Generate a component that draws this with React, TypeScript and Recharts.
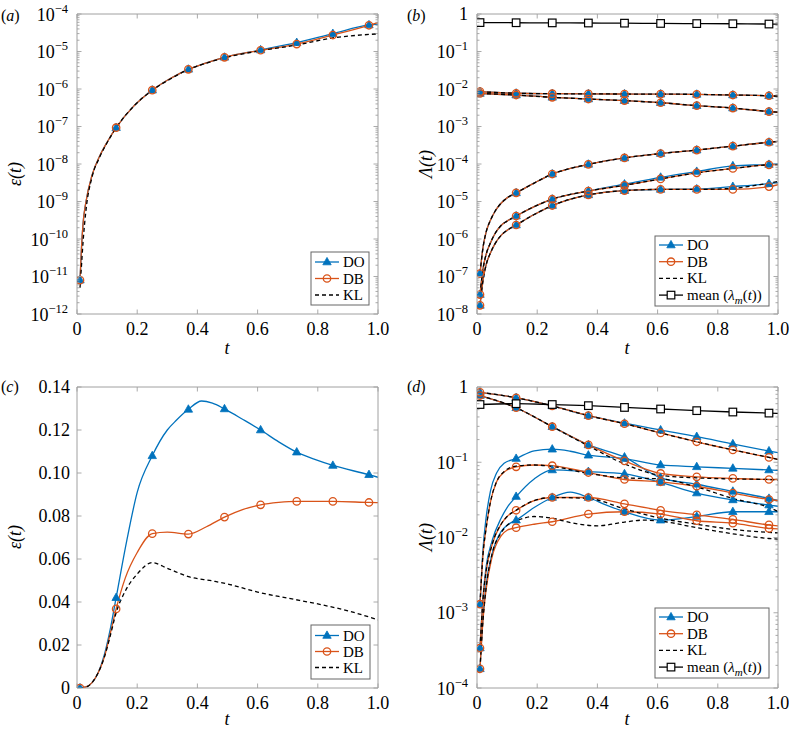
// Four-panel error / eigenvalue comparison: DO vs DB vs KL, log and linear panels.
import React from "react";
import { Line, LineChart, XAxis, YAxis } from "recharts";

type P = [number, number];
type Mark = "tri" | "circ" | "sq";

const BLUE = "#0072BD";
const ORANGE = "#D95319";
const FRAME = "#a0a0a0";
const FONT = "'Liberation Serif', 'Times New Roman', serif";

// marker times shared by every series
const MARK_T = [0.01, 0.13, 0.25, 0.37, 0.49, 0.61, 0.73, 0.85, 0.97];
const X_TICKS = [0, 0.2, 0.4, 0.6, 0.8, 1];

// y tick decades / linear ticks
const A_DECADES = [-12, -11, -10, -9, -8, -7, -6, -5, -4];
const B_DECADES = [-8, -7, -6, -5, -4, -3, -2, -1, 0];
const C_TICKS = [0, 0.02, 0.04, 0.06, 0.08, 0.1, 0.12, 0.14];
const D_DECADES = [-4, -3, -2, -1, 0];
const MINOR_MULT = [2, 3, 4, 5, 6, 7, 8, 9];

// (a) error, log scale
const A_DO: P[] = [
  [0.01, 8e-12], [0.015, 6e-11], [0.02, 2.5e-10], [0.03, 1e-9], [0.05, 5e-9], [0.075, 1.6e-8],
  [0.1, 3.8e-8], [0.13, 9.3e-8], [0.19, 3.6e-7], [0.25, 9.3e-7], [0.31, 1.9e-6], [0.37, 3.35e-6],
  [0.43, 5e-6], [0.49, 7e-6], [0.61, 1.1e-5], [0.73, 1.72e-5], [0.85, 2.99e-5], [0.97, 5.1e-5], [1, 5.4e-5],
];
const A_DB: P[] = [
  [0.01, 8e-12], [0.015, 6e-11], [0.02, 2.5e-10], [0.03, 1e-9], [0.05, 5e-9], [0.075, 1.6e-8],
  [0.1, 3.8e-8], [0.13, 9.3e-8], [0.19, 3.6e-7], [0.25, 9.3e-7], [0.31, 1.9e-6], [0.37, 3.35e-6],
  [0.43, 5e-6], [0.49, 7e-6], [0.61, 1.08e-5], [0.73, 1.58e-5], [0.85, 2.75e-5], [0.97, 5e-5], [1, 5.9e-5],
];
const A_KL: P[] = [
  [0.01, 5e-12], [0.015, 2e-11], [0.02, 8e-11], [0.03, 6e-10], [0.05, 4.5e-9], [0.075, 1.5e-8],
  [0.1, 3.7e-8], [0.13, 9.2e-8], [0.19, 3.6e-7], [0.25, 9.2e-7], [0.31, 1.85e-6], [0.37, 3.3e-6],
  [0.43, 4.9e-6], [0.49, 6.8e-6], [0.61, 1.05e-5], [0.73, 1.49e-5], [0.85, 2.3e-5], [0.97, 2.85e-5], [1, 2.95e-5],
];

// (b) eigenvalues, log scale
const B_MEAN: P[] = [
  [0.01, 0.59], [0.13, 0.585], [0.25, 0.58], [0.37, 0.575], [0.49, 0.57], [0.61, 0.56],
  [0.73, 0.555], [0.85, 0.55], [0.97, 0.54], [1, 0.54],
];
const B_M1: P[] = [
  [0.01, 8.5e-3], [0.13, 7.7e-3], [0.25, 7.5e-3], [0.37, 7.4e-3], [0.49, 7.35e-3], [0.61, 7.3e-3],
  [0.73, 7.2e-3], [0.85, 6.9e-3], [0.97, 6.6e-3], [1, 6.4e-3],
];
const B_M2: P[] = [
  [0.01, 7.6e-3], [0.13, 6.9e-3], [0.25, 6e-3], [0.37, 5.4e-3], [0.49, 4.9e-3], [0.61, 4.3e-3],
  [0.73, 3.6e-3], [0.85, 3.1e-3], [0.97, 2.5e-3], [1, 2.4e-3],
];
const B_M3: P[] = [
  [0.01, 1.2e-7], [0.02, 6e-7], [0.03, 1.5e-6], [0.045, 3.2e-6], [0.06, 5.5e-6], [0.08, 9e-6],
  [0.1, 1.25e-5], [0.13, 1.7e-5], [0.19, 3.1e-5], [0.25, 5.4e-5], [0.31, 7.6e-5], [0.37, 9.8e-5],
  [0.49, 1.45e-4], [0.61, 1.9e-4], [0.73, 2.35e-4], [0.85, 3e-4], [0.97, 3.8e-4], [1, 4e-4],
];
const B_M4_DO: P[] = [
  [0.01, 3.3e-8], [0.02, 1.6e-7], [0.03, 3.8e-7], [0.045, 8e-7], [0.06, 1.4e-6], [0.08, 2.3e-6],
  [0.1, 3e-6], [0.13, 4.1e-6], [0.19, 7.3e-6], [0.25, 1.15e-5], [0.37, 1.9e-5], [0.49, 2.9e-5],
  [0.61, 4.4e-5], [0.73, 6.3e-5], [0.85, 8.9e-5], [0.97, 9.7e-5], [1, 1e-4],
];
const B_M4_DB: P[] = [
  [0.01, 3.3e-8], [0.02, 1.6e-7], [0.03, 3.8e-7], [0.045, 8e-7], [0.06, 1.4e-6], [0.08, 2.3e-6],
  [0.1, 3e-6], [0.13, 4.1e-6], [0.19, 7.3e-6], [0.25, 1.15e-5], [0.37, 1.9e-5], [0.49, 2.7e-5],
  [0.61, 4e-5], [0.73, 5.8e-5], [0.85, 7.6e-5], [0.97, 9.5e-5], [1, 9.6e-5],
];
const B_M5_DO: P[] = [
  [0.01, 1.7e-8], [0.02, 8e-8], [0.03, 2e-7], [0.045, 4.3e-7], [0.06, 7.5e-7], [0.08, 1.25e-6],
  [0.1, 1.7e-6], [0.13, 2.36e-6], [0.19, 4.5e-6], [0.25, 7.8e-6], [0.37, 1.5e-5], [0.49, 1.95e-5],
  [0.61, 2.1e-5], [0.73, 2.15e-5], [0.85, 2.5e-5], [0.97, 3e-5], [1, 3.2e-5],
];
const B_M5_DB: P[] = [
  [0.01, 1.7e-8], [0.02, 8e-8], [0.03, 2e-7], [0.045, 4.3e-7], [0.06, 7.5e-7], [0.08, 1.25e-6],
  [0.1, 1.7e-6], [0.13, 2.36e-6], [0.19, 4.5e-6], [0.25, 7.8e-6], [0.37, 1.5e-5], [0.49, 1.95e-5],
  [0.61, 2.1e-5], [0.73, 2.1e-5], [0.85, 2.1e-5], [0.97, 2.5e-5], [1, 2.8e-5],
];
const B_M5_KL: P[] = [
  [0.01, 1.7e-8], [0.02, 8e-8], [0.03, 2e-7], [0.045, 4.3e-7], [0.06, 7.5e-7], [0.08, 1.25e-6],
  [0.1, 1.7e-6], [0.13, 2.36e-6], [0.19, 4.5e-6], [0.25, 7.8e-6], [0.37, 1.5e-5], [0.49, 1.95e-5],
  [0.61, 2.1e-5], [0.73, 2.1e-5], [0.85, 2.25e-5], [0.97, 3.1e-5], [1, 3.4e-5],
];

// (c) error, linear scale
const C_DO: P[] = [
  [0.01, 0], [0.03, 0.0005], [0.05, 0.0025], [0.07, 0.007], [0.09, 0.015], [0.11, 0.027],
  [0.13, 0.042], [0.166, 0.069], [0.2, 0.091], [0.25, 0.108], [0.3, 0.12], [0.33, 0.1245],
  [0.37, 0.1296], [0.414, 0.1335], [0.45, 0.1325], [0.49, 0.1298], [0.55, 0.125], [0.61, 0.12],
  [0.67, 0.1145], [0.73, 0.1097], [0.79, 0.1063], [0.85, 0.1035], [0.97, 0.0992], [1, 0.098],
];
const C_DB: P[] = [
  [0.01, 0], [0.03, 0.0005], [0.05, 0.0025], [0.07, 0.007], [0.09, 0.014], [0.11, 0.025],
  [0.13, 0.0368], [0.16, 0.051], [0.2, 0.063], [0.25, 0.0718], [0.3, 0.0725], [0.37, 0.0716],
  [0.43, 0.075], [0.49, 0.0795], [0.55, 0.083], [0.61, 0.0852], [0.67, 0.0863], [0.73, 0.0868],
  [0.85, 0.0868], [0.97, 0.0863], [1, 0.0862],
];
const C_KL: P[] = [
  [0.01, 0], [0.03, 0.0004], [0.05, 0.0025], [0.07, 0.007], [0.09, 0.014], [0.11, 0.024],
  [0.13, 0.035], [0.16, 0.045], [0.2, 0.053], [0.25, 0.0583], [0.3, 0.0557], [0.37, 0.0518],
  [0.45, 0.0498], [0.5, 0.0484], [0.6, 0.0446], [0.7, 0.0418], [0.8, 0.0391], [0.9, 0.0359], [1, 0.0317],
];

// (d) eigenvalues, log scale
const D_MEAN: P[] = [
  [0.01, 0.585], [0.13, 0.6], [0.25, 0.585], [0.37, 0.565], [0.49, 0.535], [0.61, 0.51],
  [0.73, 0.485], [0.85, 0.465], [0.97, 0.45], [1, 0.447],
];
const D_M1_DO: P[] = [
  [0.01, 0.85], [0.13, 0.72], [0.25, 0.56], [0.37, 0.416], [0.49, 0.33], [0.61, 0.268],
  [0.73, 0.219], [0.85, 0.175], [0.97, 0.141], [1, 0.134],
];
const D_M1_DB: P[] = [
  [0.01, 0.85], [0.13, 0.72], [0.25, 0.56], [0.37, 0.416], [0.49, 0.325], [0.61, 0.245],
  [0.73, 0.187], [0.85, 0.146], [0.97, 0.116], [1, 0.109],
];
const D_M2_DO: P[] = [
  [0.01, 0.77], [0.13, 0.53], [0.25, 0.297], [0.37, 0.17], [0.49, 0.117], [0.61, 0.062],
  [0.73, 0.051], [0.85, 0.041], [0.97, 0.033], [1, 0.031],
];
const D_M2_DB: P[] = [
  [0.01, 0.77], [0.13, 0.53], [0.25, 0.297], [0.37, 0.17], [0.49, 0.104], [0.61, 0.071],
  [0.73, 0.064], [0.85, 0.061], [0.97, 0.059], [1, 0.059],
];
const D_M2_KL: P[] = [
  [0.01, 0.77], [0.13, 0.53], [0.25, 0.297], [0.37, 0.165], [0.49, 0.095], [0.61, 0.067],
  [0.73, 0.062], [0.85, 0.06], [0.97, 0.059], [1, 0.058],
];
const D_M3_DO: P[] = [
  [0.01, 1.3e-3], [0.02, 7e-3], [0.03, 0.018], [0.045, 0.042], [0.065, 0.072], [0.09, 0.097],
  [0.13, 0.112], [0.19, 0.142], [0.25, 0.149], [0.31, 0.14], [0.37, 0.124], [0.49, 0.112],
  [0.61, 0.092], [0.73, 0.087], [0.85, 0.083], [0.97, 0.079], [1, 0.078],
];
const D_M3_DB: P[] = [
  [0.01, 1.3e-3], [0.02, 6e-3], [0.03, 0.013], [0.045, 0.03], [0.065, 0.055], [0.09, 0.074],
  [0.13, 0.087], [0.19, 0.092], [0.25, 0.09], [0.37, 0.073], [0.49, 0.059], [0.61, 0.055],
  [0.73, 0.048], [0.85, 0.039], [0.97, 0.032], [1, 0.031],
];
const D_M3_KL: P[] = [
  [0.01, 1.3e-3], [0.02, 6e-3], [0.03, 0.013], [0.045, 0.03], [0.065, 0.055], [0.09, 0.075],
  [0.13, 0.089], [0.19, 0.092], [0.25, 0.088], [0.37, 0.071], [0.49, 0.062], [0.61, 0.06],
  [0.73, 0.047], [0.85, 0.033], [0.97, 0.025], [1, 0.0222],
];
const D_M4_DO: P[] = [
  [0.01, 3.4e-4], [0.02, 1.6e-3], [0.03, 4e-3], [0.05, 0.009], [0.08, 0.018], [0.1, 0.025],
  [0.13, 0.035], [0.19, 0.06], [0.25, 0.079], [0.37, 0.075], [0.49, 0.07], [0.61, 0.054],
  [0.73, 0.039], [0.85, 0.0316], [0.97, 0.027], [1, 0.026],
];
const D_M4_DB: P[] = [
  [0.01, 3.4e-4], [0.02, 1.5e-3], [0.03, 3.5e-3], [0.05, 8e-3], [0.08, 0.015], [0.1, 0.019],
  [0.13, 0.023], [0.19, 0.031], [0.25, 0.034], [0.37, 0.034], [0.49, 0.028], [0.61, 0.023],
  [0.73, 0.02], [0.85, 0.0174], [0.97, 0.0147], [1, 0.0143],
];
const D_M4_KL: P[] = [
  [0.01, 3.4e-4], [0.02, 1.5e-3], [0.03, 3.5e-3], [0.05, 8e-3], [0.08, 0.015], [0.1, 0.019],
  [0.13, 0.023], [0.19, 0.031], [0.25, 0.034], [0.37, 0.033], [0.49, 0.024], [0.61, 0.018],
  [0.73, 0.015], [0.85, 0.0128], [0.97, 0.0117], [1, 0.0115],
];
const D_M5_DO: P[] = [
  [0.01, 1.8e-4], [0.02, 9e-4], [0.03, 2.3e-3], [0.05, 6e-3], [0.08, 0.012], [0.1, 0.0145],
  [0.13, 0.017], [0.19, 0.025], [0.25, 0.034], [0.31, 0.04], [0.37, 0.034], [0.43, 0.027],
  [0.49, 0.022], [0.61, 0.017], [0.73, 0.019], [0.85, 0.022], [0.97, 0.022], [1, 0.022],
];
const D_M5_DB: P[] = [
  [0.01, 1.8e-4], [0.02, 8e-4], [0.03, 2e-3], [0.05, 5.5e-3], [0.08, 0.0105], [0.1, 0.0125],
  [0.13, 0.0135], [0.19, 0.015], [0.25, 0.0162], [0.37, 0.0205], [0.49, 0.022], [0.61, 0.0205],
  [0.73, 0.0167], [0.85, 0.0155], [0.97, 0.0132], [1, 0.013],
];
const D_M5_KL: P[] = [
  [0.01, 1.8e-4], [0.02, 8e-4], [0.03, 2.1e-3], [0.05, 6e-3], [0.08, 0.0115], [0.1, 0.0145],
  [0.13, 0.0166], [0.19, 0.019], [0.25, 0.018], [0.31, 0.0158], [0.4, 0.0143], [0.49, 0.016],
  [0.55, 0.017], [0.61, 0.0165], [0.73, 0.0135], [0.85, 0.0112], [0.97, 0.0097], [1, 0.0095],
];

interface Series {
  pts: P[];
  color: string;
  dash?: boolean;
  mark?: Mark;
}

const rows = (pts: P[]) => pts.map(([t, v]) => ({ t, v }));
const isMarkT = (t: number) => MARK_T.some((m) => Math.abs(m - t) < 1e-9);
const decadeTicks = (decs: number[]) => decs.map((d) => Math.pow(10, d));
const minorTicks = (decs: number[]) =>
  decs.slice(0, -1).flatMap((d) => MINOR_MULT.map((m) => m * Math.pow(10, d)));

function markerShape(kind: Mark, color: string, cx: number, cy: number, key?: string) {
  if (kind === "tri")
    return (
      <polygon
        key={key}
        points={`${cx},${cy - 4.6} ${cx - 4.2},${cy + 2.8} ${cx + 4.2},${cy + 2.8}`}
        fill={color}
        stroke={color}
        strokeWidth={0.8}
      />
    );
  if (kind === "circ")
    return <circle key={key} cx={cx} cy={cy} r={3.7} fill="none" stroke={color} strokeWidth={1.3} />;
  return (
    <rect key={key} x={cx - 3.8} y={cy - 3.8} width={7.6} height={7.6} fill="#fff" stroke={color} strokeWidth={1.2} />
  );
}

function dotFor(kind: Mark, color: string) {
  return (p: any) => {
    const key = `d${p.index}`;
    if (p.cx == null || p.cy == null || !isMarkT(p.payload.t)) return <g key={key} />;
    return markerShape(kind, color, p.cx, p.cy, key);
  };
}

const fmtX = (v: number) => (v === 0 ? "0" : v.toFixed(1));

function logLabel(v: number, x: number, y: number) {
  const e = Math.round(Math.log10(v));
  if (e === 0)
    return (
      <text x={x - 9} y={y + 6} textAnchor="end" fontFamily={FONT} fontSize={18} fill="#000">
        1
      </text>
    );
  return (
    <text x={x - 9} y={y + 6.5} textAnchor="end" fontFamily={FONT} fontSize={18} fill="#000">
      10
      <tspan dy={-8} fontSize={12.5}>{`\u2212${-e}`}</tspan>
    </text>
  );
}

function linLabel(v: number, x: number, y: number) {
  return (
    <text x={x - 7} y={y + 6} textAnchor="end" fontFamily={FONT} fontSize={18} fill="#000">
      {v === 0 ? "0" : v.toFixed(2)}
    </text>
  );
}

interface PanelProps {
  left: number;
  top: number;
  width: number;
  height: number;
  margin: { top: number; right: number; bottom: number; left: number };
  log: boolean;
  domain: [number, number];
  majors: number[];
  minors: number[];
  series: Series[];
}

function Panel({ left, top, width, height, margin, log, domain, majors, minors, series }: PanelProps) {
  const yTicks = [...majors, ...minors];
  const isMajor = (v: number) => majors.some((m) => m === v || Math.abs(m - v) <= Math.abs(m) * 1e-9);
  const yTick = (side: "l" | "r") => (p: any) => {
    const v = p.payload.value;
    const major = isMajor(v);
    const len = major ? 4.5 : 2.5;
    const dx = side === "l" ? len : -len;
    return (
      <g key={`${side}${v}`}>
        <line x1={p.x} x2={p.x + dx} y1={p.y} y2={p.y} stroke={FRAME} strokeWidth={0.9} />
        {side === "l" && major && (log ? logLabel(v, p.x, p.y) : linLabel(v, p.x, p.y))}
      </g>
    );
  };
  const xTick = (side: "b" | "t") => (p: any) => {
    const v = p.payload.value;
    return (
      <g key={`${side}${v}`}>
        <line x1={p.x} x2={p.x} y1={p.y} y2={side === "b" ? p.y - 4.5 : p.y + 4.5} stroke={FRAME} strokeWidth={0.9} />
        {side === "b" && (
          <text x={p.x} y={p.y + 21} textAnchor="middle" fontFamily={FONT} fontSize={18} fill="#000">
            {fmtX(v)}
          </text>
        )}
      </g>
    );
  };
  // axes need a non-zero size or Recharts skips them; 1px each, taken out of the margins
  const axisCommon = {
    type: "number" as const,
    allowDataOverflow: true,
    interval: 0 as const,
    tickSize: 0,
    tickMargin: 0,
    tickLine: false,
    axisLine: { stroke: FRAME, strokeWidth: 1 },
  };
  return (
    <div style={{ position: "absolute", left, top }}>
      <LineChart width={width} height={height} margin={margin}>
        <XAxis {...axisCommon} xAxisId="b" dataKey="t" domain={[0, 1]} ticks={X_TICKS} height={1} tick={xTick("b")} />
        <XAxis {...axisCommon} xAxisId="t" orientation="top" dataKey="t" domain={[0, 1]} ticks={X_TICKS} height={1} tick={xTick("t")} />
        <YAxis {...axisCommon} yAxisId="l" scale={log ? "log" : "linear"} domain={domain} ticks={yTicks} width={1} tick={yTick("l")} />
        <YAxis {...axisCommon} yAxisId="r" orientation="right" scale={log ? "log" : "linear"} domain={domain} ticks={yTicks} width={1} tick={yTick("r")} />
        {series.map((s, i) => (
          <Line
            key={i}
            xAxisId="b"
            yAxisId="l"
            data={rows(s.pts)}
            dataKey="v"
            type="monotone"
            stroke={s.color}
            strokeWidth={1.3}
            strokeDasharray={s.dash ? "4 3" : undefined}
            dot={s.mark ? dotFor(s.mark, s.color) : false}
            activeDot={false}
            isAnimationActive={false}
          />
        ))}
      </LineChart>
    </div>
  );
}

interface LegendRow {
  label: React.ReactNode;
  color: string;
  dash?: boolean;
  mark?: Mark;
}

function LegendBox({ left, top, width, height, first, step, items }: {
  left: number; top: number; width: number; height: number; first: number; step: number; items: LegendRow[];
}) {
  return (
    <svg width={width + 2} height={height + 2} style={{ position: "absolute", left: left - 1, top: top - 1 }}>
      <rect x={1} y={1} width={width} height={height} fill="#fff" stroke="#666" strokeWidth={1} />
      {items.map((r, i) => {
        const cy = 1 + first + i * step;
        return (
          <g key={i}>
            <line x1={5} x2={29} y1={cy} y2={cy} stroke={r.color} strokeWidth={1.3} strokeDasharray={r.dash ? "4 3" : undefined} />
            {r.mark && markerShape(r.mark, r.color, 17, cy)}
            <text x={33} y={cy + 5} fontFamily={FONT} fontSize={15} fill="#000">
              {r.label}
            </text>
          </g>
        );
      })}
    </svg>
  );
}

const MEAN_LABEL = (
  <>
    mean (<tspan fontStyle="italic">λ</tspan>
    <tspan fontStyle="italic" fontSize={11} dy={4}>m</tspan>
    <tspan dy={-4}>(</tspan>
    <tspan fontStyle="italic">t</tspan>))
  </>
);

const LEG3: LegendRow[] = [
  { label: "DO", color: BLUE, mark: "tri" },
  { label: "DB", color: ORANGE, mark: "circ" },
  { label: "KL", color: "#000", dash: true },
];
const LEG4: LegendRow[] = [...LEG3, { label: MEAN_LABEL, color: "#000", mark: "sq" }];

const doS = (pts: P[]): Series => ({ pts, color: BLUE, mark: "tri" });
const dbS = (pts: P[]): Series => ({ pts, color: ORANGE, mark: "circ" });
const klS = (pts: P[]): Series => ({ pts, color: "#000", dash: true });

// all DO first, then DB over them, KL dashed on top, mean last
function modeSeries(modes: [P[], P[], P[]][], mean: P[]): Series[] {
  return [
    ...modes.map((m) => doS(m[0])),
    ...modes.map((m) => dbS(m[1])),
    ...modes.map((m) => klS(m[2])),
    { pts: mean, color: "#000", mark: "sq" },
  ];
}

const SERIES_A: Series[] = [doS(A_DO), dbS(A_DB), klS(A_KL)];
const SERIES_C: Series[] = [doS(C_DO), dbS(C_DB), klS(C_KL)];
const SERIES_B = modeSeries(
  [
    [B_M1, B_M1, B_M1],
    [B_M2, B_M2, B_M2],
    [B_M3, B_M3, B_M3],
    [B_M4_DO, B_M4_DB, B_M4_DB],
    [B_M5_DO, B_M5_DB, B_M5_KL],
  ],
  B_MEAN,
);
const SERIES_D = modeSeries(
  [
    [D_M1_DO, D_M1_DB, D_M1_DB],
    [D_M2_DO, D_M2_DB, D_M2_KL],
    [D_M3_DO, D_M3_DB, D_M3_KL],
    [D_M4_DO, D_M4_DB, D_M4_KL],
    [D_M5_DO, D_M5_DB, D_M5_KL],
  ],
  D_MEAN,
);

const TOP_M = { top: 13, left: 76, right: 11, bottom: 50 };
const TOP_M_R = { top: 13, left: 86, right: 10, bottom: 50 };
const BOT_M = { top: 21, left: 76, right: 11, bottom: 40 };
const BOT_M_R = { top: 21, left: 86, right: 10, bottom: 40 };

function Annotations() {
  const t = (x: number, y: number) => (
    <text x={x} y={y} textAnchor="middle" fontFamily={FONT} fontSize={18} fontStyle="italic">
      t
    </text>
  );
  const panel = (x: number, y: number, c: string) => (
    <text x={x} y={y} fontFamily={FONT} fontSize={16}>
      (<tspan fontStyle="italic">{c}</tspan>)
    </text>
  );
  const yl = (x: number, y: number, sym: string) => (
    <text
      x={x}
      y={y}
      textAnchor="middle"
      fontFamily={FONT}
      fontSize={18}
      fontStyle="italic"
      transform={`rotate(-90 ${x} ${y})`}
    >
      {sym}(t)
    </text>
  );
  return (
    <svg width={789} height={729} style={{ position: "absolute", left: 0, top: 0, pointerEvents: "none" }}>
      {panel(1, 21, "a")}
      {panel(407, 21, "b")}
      {panel(1, 392, "c")}
      {panel(407, 392, "d")}
      {yl(21, 174, "\u03b5")}
      {yl(432, 164, "\u039b")}
      {yl(21, 537, "\u03b5")}
      {yl(432, 537, "\u039b")}
      {t(227, 354)}
      {t(627, 354)}
      {t(227, 725)}
      {t(627, 725)}
    </svg>
  );
}

export default function App() {
  return (
    <div style={{ position: "relative", width: 789, height: 729, background: "#fff", overflow: "hidden" }}>
      <style>{"body{margin:0}"}</style>
      <Panel left={0} top={0} width={390} height={365} margin={TOP_M} log domain={[1e-12, 1e-4]}
        majors={decadeTicks(A_DECADES)} minors={minorTicks(A_DECADES)} series={SERIES_A} />
      <Panel left={390} top={0} width={399} height={365} margin={TOP_M_R} log domain={[1e-8, 1]}
        majors={decadeTicks(B_DECADES)} minors={minorTicks(B_DECADES)} series={SERIES_B} />
      <Panel left={0} top={365} width={390} height={364} margin={BOT_M} log={false} domain={[0, 0.14]}
        majors={C_TICKS} minors={[]} series={SERIES_C} />
      <Panel left={390} top={365} width={399} height={364} margin={BOT_M_R} log domain={[1e-4, 1]}
        majors={decadeTicks(D_DECADES)} minors={minorTicks(D_DECADES)} series={SERIES_D} />
      <LegendBox left={311} top={252} width={58} height={53} first={10} step={16.5} items={LEG3} />
      <LegendBox left={655} top={236} width={114} height={70} first={9} step={16.7} items={LEG4} />
      <LegendBox left={311} top={625} width={59} height={54} first={10.5} step={16} items={LEG3} />
      <LegendBox left={655} top={608} width={114} height={70} first={9} step={16.7} items={LEG4} />
      <Annotations />
    </div>
  );
}
